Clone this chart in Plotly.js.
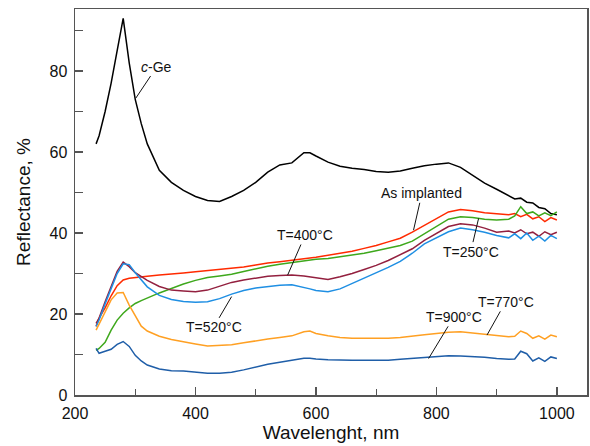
<!DOCTYPE html>
<html>
<head>
<meta charset="utf-8">
<script src="https://cdn.plot.ly/plotly-3.0.1.min.js"></script>
<style>html,body{margin:0;padding:0;background:#fff;}</style>
</head>
<body>
<div id="chart" style="width:590px;height:446px;"></div>
<script>
// Wavelength (nm)
const wavelength = [235,240,250,260,270,280,290,300,310,320,
  340,360,380,400,420,440,460,480,500,520,
  540,560,580,590,600,620,640,660,680,700,
  720,740,760,780,800,820,840,860,880,900,
  920,930,940,950,960,970,980,990,1000];

// Reflectance (%)
const cGe = [62,64,70,77,85,93,82,73,67,62,
  55.5,52.5,50.5,49,48,47.8,49,50.5,52.5,55,
  56.8,57.3,59.8,59.8,59,57.5,56.5,56,55.7,55.2,
  55,55.3,56,56.6,57,57.3,56.2,54.2,52.3,50.8,
  49.2,48.4,48.6,47.6,47.4,46.3,46,44.8,44.5];
const asImplanted = [17,19,21.5,24.5,27,28.4,28.8,29,29.2,29.3,
  29.6,29.8,30.1,30.4,30.7,31,31.2,31.6,32.1,32.6,
  32.9,33.2,33.6,33.8,34,34.5,35,35.5,36.2,36.9,
  37.8,38.7,40.2,41.8,43.5,45.2,45.8,45.5,45,44.8,
  44.5,44.8,44,44.6,43.5,44,42.8,43.8,43.2];
const t250 = [11,11.5,13,16,18.5,20.2,21.5,22.6,23.3,24,
  25.2,26.3,27.4,28.3,29,29.4,29.8,30.5,31.2,31.8,
  32.3,32.7,33.1,33.3,33.5,33.7,34.1,34.5,35,35.6,
  36.3,36.9,38,39.8,41.7,43.4,44,43.8,43.4,43.2,
  43.4,44.2,46.5,44.8,45.2,44.2,45,44.3,45.2];
const t400 = [17.7,19,23,27,30.5,32.8,31.7,30.2,29.2,28.3,
  26.8,25.9,25.7,25.5,25.9,26.8,27.8,28.4,28.9,29.3,
  29.5,29.6,29.4,29.2,28.9,28.5,29.2,30,31,32,
  33.2,34.6,36.1,38.2,40,41.6,42.3,42,41.2,40.2,
  40.5,40,40.8,39.8,40.2,39.2,40.3,39.6,40.2];
const t520 = [16.9,18.5,22.5,26.5,30,32.4,32.2,30.2,28.3,26.7,
  24.6,23.6,23.1,22.9,23,23.8,24.9,25.8,26.4,26.8,
  27.1,27.2,26.6,26.2,25.8,25.5,26.2,27.5,28.8,30.2,
  31.5,33,35,37.3,38.7,40.3,41.2,40.8,40.2,39.4,
  38.8,39.8,38.6,40,38.2,39.2,38,39.4,38.6];
const t770 = [16,17.5,20.5,23.5,25.2,25.3,22.2,19.5,17,15.8,
  14.5,13.7,13.1,12.6,12.1,12.2,12.4,12.9,13.4,13.8,
  14.2,14.6,15.6,15.8,15.2,14.6,14.2,14,14,14,
  14,14.2,14.6,14.9,15.2,15.5,15.6,15.3,15,14.7,
  14.4,14.5,15.8,15.2,14,14.6,13.8,14.8,14.4];
const t900 = [11.5,10.3,10.8,11.3,12.5,13.2,12,9.8,8.4,7.4,
  6.4,6,5.9,5.6,5.4,5.4,5.6,6.2,6.9,7.6,
  8.1,8.6,9.1,9.1,8.9,8.7,8.6,8.6,8.6,8.6,
  8.6,8.8,9,9.3,9.5,9.7,9.6,9.5,9.3,9,
  8.8,8.9,10.8,10.2,8.4,9.2,8.3,9.4,9];

const seriesNames = ['c-Ge','As implanted','T=250°C','T=400°C','T=520°C','T=770°C','T=900°C'];
const seriesValues = [cGe, asImplanted, t250, t400, t520, t770, t900];
const seriesColors = ['#000000','#ff2a00','#3ea81c','#93203f','#1f8fe3','#ffa023','#1f5ea8'];

// Label texts and positions [text, textX, textY, pointX, pointY]
const labels = [
  ['<i>c</i>-Ge', 336, 81.1, 301, 73.3],
  ['As implanted', 776, 49.8, 762, 40.7],
  ['T=400°C', 582, 39.5, 553, 29.6],
  ['T=250°C', 857, 35.4, 870, 43.6],
  ['T=520°C', 430, 16.7, 460, 24.3],
  ['T=770°C', 915, 23.0, 884, 14.8],
  ['T=900°C', 829, 19.3, 787, 9.0]
];

const traces = seriesValues.map((v, i) => ({
  x: wavelength, y: v, type: 'scatter', mode: 'lines', name: seriesNames[i],
  line: {color: seriesColors[i], width: 1.5}
}));

const font = {family: '"Liberation Sans", Arial, sans-serif', color: '#111'};

const layout = {
  width: 590, height: 446,
  margin: {l: 75, r: 3, t: 9, b: 51},
  paper_bgcolor: '#fff', plot_bgcolor: '#fff',
  showlegend: false,
  font: font,
  xaxis: {
    range: [200, 1050], tick0: 0, dtick: 200,
    ticks: 'inside', ticklen: 8, tickwidth: 1.3, tickcolor: '#555',
    minor: {dtick: 100, ticks: 'inside', ticklen: 6, tickwidth: 1.3, tickcolor: '#555'},
    showline: true, linecolor: '#555', linewidth: 1.5, mirror: true,
    showgrid: false, zeroline: false,
    tickfont: {size: 16, family: font.family, color: '#111'},
    ticklabelstandoff: 3,
    title: {text: 'Wavelenght, nm', font: {size: 19, family: font.family, color: '#111'}, standoff: 1}
  },
  yaxis: {
    range: [0, 95.3], tick0: 0, dtick: 20,
    ticks: 'inside', ticklen: 8, tickwidth: 1.3, tickcolor: '#555',
    minor: {dtick: 10, ticks: 'inside', ticklen: 8, tickwidth: 1.3, tickcolor: '#555'},
    showline: true, linecolor: '#555', linewidth: 1.5, mirror: true,
    showgrid: false, zeroline: false,
    tickfont: {size: 16, family: font.family, color: '#111'},
    ticklabelstandoff: 3,
    title: {text: 'Reflectance, %', font: {size: 19, family: font.family, color: '#111'}, standoff: 14}
  },
  annotations: labels.map(l => ({
    text: l[0], x: l[3], y: l[4], ax: l[1], ay: l[2],
    xref: 'x', yref: 'y', axref: 'x', ayref: 'y',
    showarrow: true, arrowhead: 0, arrowwidth: 1, arrowcolor: '#111', standoff: 0,
    borderpad: 1,
    font: {size: 14, family: font.family, color: '#111'}
  }))
};

Plotly.newPlot('chart', traces, layout, {displayModeBar: false, staticPlot: true});
</script>
</body>
</html>
